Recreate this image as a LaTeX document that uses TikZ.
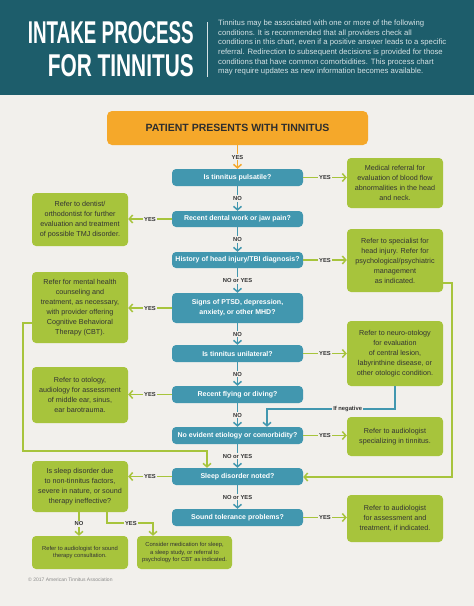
\documentclass[tikz,border=0pt]{standalone}
\usepackage{fontspec}
\setmainfont{Liberation Sans}
\usepackage{graphicx}
\usetikzlibrary{arrows.meta}
\definecolor{bg}{HTML}{F2F0EC}
\definecolor{hdr}{HTML}{1D5D6B}
\definecolor{hdtext}{HTML}{D5E2E5}
\definecolor{orng}{HTML}{F5A82A}
\definecolor{qblue}{HTML}{4297AF}
\definecolor{lime}{HTML}{A7C43C}
\definecolor{txt}{HTML}{333333}
\definecolor{cpy}{HTML}{8A8A8A}
\tikzset{
 qbox/.style={fill=qblue, rounded corners=4pt, text=white, font=\bfseries\fontsize{7}{10}\selectfont, minimum width=131pt, minimum height=17pt, align=center, inner sep=0pt},
 gbox/.style={fill=lime, rounded corners=4pt, text=txt, font=\fontsize{7.2}{10}\selectfont, minimum width=96pt, align=center, inner sep=0pt},
 sbox/.style={gbox, font=\fontsize{5.8}{7.8}\selectfont},
 conn/.style={line width=1.5pt},
 bl/.style={conn, draw=qblue},
 ll/.style={conn, draw=lime},
 ol/.style={conn, draw=orng},
 arr/.style={-{Straight Barb[length=3.5pt,width=8pt]}},
 lab/.style={fill=bg, text=txt, font=\bfseries\fontsize{5.8}{6}\selectfont, inner sep=1.2pt},
}
\begin{document}
\begin{tikzpicture}[x=1pt,y=-1pt]
\fill[bg] (0,0) rectangle (474,606);
\fill[hdr] (0,0) rectangle (474,95);
% title
\node[anchor=base east, inner sep=0, text=white] (t1) at (194,43.5) {\resizebox{166pt}{22pt}{\bfseries INTAKE PROCESS}};
\node[anchor=base east, inner sep=0, text=white] (t2) at (194,76) {\resizebox{146pt}{22pt}{\bfseries FOR TINNITUS}};
\coordinate (s1) at (207,22);
\coordinate (s2) at (207,77);
\draw[hdtext, line width=0.6pt] (s1) -- (s2);
\node[anchor=north west, inner sep=0, align=left, text=hdtext, font=\fontsize{7.7}{9.6}\selectfont] (intro) at (218,20) {Tinnitus may be associated with one or more of the following\\conditions. It is recommended that all providers check all\\conditions in this chart, even if a positive answer leads to a specific\\referral. Redirection to subsequent decisions is provided for those\\conditions that have common comorbidities. This process chart\\may require updates as new information becomes available.};
% start
\node[fill=orng, rounded corners=5pt, minimum width=261pt, minimum height=34pt, inner sep=0, text=txt!90!black, font=\bfseries\fontsize{10.5}{12}\selectfont] (start) at (237.5,128) {PATIENT PRESENTS WITH TINNITUS};
% questions
\node[qbox] (b1) at (237.5,177.5) {Is tinnitus pulsatile?};
\node[qbox, minimum height=16pt] (b2) at (237.5,219) {Recent dental work or jaw pain?};
\node[qbox, minimum height=16pt] (b3) at (237.5,260) {History of head injury/TBI diagnosis?};
\node[qbox, minimum height=30pt] (b4) at (237.5,308) {Signs of PTSD, depression,\\anxiety, or other MHD?};
\node[qbox] (b5) at (237.5,353.5) {Is tinnitus unilateral?};
\node[qbox] (b6) at (237.5,394.5) {Recent flying or diving?};
\node[qbox] (b7) at (237.5,435.5) {No evident etiology or comorbidity?};
\node[qbox] (b8) at (237.5,476.5) {Sleep disorder noted?};
\node[qbox] (b9) at (237.5,517.5) {Sound tolerance problems?};
% right boxes
\node[gbox, minimum height=50pt] (r1) at (395,183) {Medical referral for\\evaluation of blood flow\\abnormalities in the head\\and neck.};
\node[gbox, minimum height=63pt] (r2) at (395,260.5) {Refer to specialist for\\head injury. Refer for\\psychological/psychiatric\\management\\as indicated.};
\node[gbox, minimum height=65pt] (r3) at (395,353.5) {Refer to neuro-otology\\for evaluation\\of central lesion,\\labyrinthine disease, or\\other otologic condition.};
\node[gbox, minimum height=39pt] (r4) at (395,436.5) {Refer to audiologist\\specializing in tinnitus.};
\node[gbox, minimum height=47pt] (r5) at (395,518.5) {Refer to audiologist\\for assessment and\\treatment, if indicated.};
% left boxes
\node[gbox, minimum height=53pt] (l1) at (80,219.5) {Refer to dentist/\\orthodontist for further\\evaluation and treatment\\of possible TMJ disorder.};
\node[gbox, minimum height=71pt] (l2) at (80,307.5) {Refer for mental health\\counseling and\\treatment, as necessary,\\with provider offering\\Cognitive Behavioral\\Therapy (CBT).};
\node[gbox, minimum height=56pt] (l3) at (80,395) {Refer to otology,\\audiology for assessment\\of middle ear, sinus,\\ear barotrauma.};
\node[gbox, minimum height=51pt] (l4) at (80,486.5) {Is sleep disorder due\\to non-tinnitus factors,\\severe in nature, or sound\\therapy ineffective?};
\node[sbox, minimum height=33pt] (l5) at (80,552.5) {Refer to audiologist for sound\\therapy consultation.};
\node[sbox, minimum height=33pt, minimum width=95pt] (l6) at (184.5,552.5) {Consider medication for sleep,\\a sleep study, or referral to\\psychology for CBT as indicated.};
\node[anchor=base west, inner sep=0, text=cpy, font=\fontsize{5}{6}\selectfont] (copy) at (28,581.5) {\textcopyright{} 2017 American Tinnitus Association};
% main spine
\draw[ol, arr] (start) -- node[lab]{YES} (b1);
\draw[bl, arr] (b1) -- node[lab]{NO} (b2);
\draw[bl, arr] (b2) -- node[lab]{NO} (b3);
\draw[bl, arr] (b3) -- node[lab]{NO or YES} (b4);
\draw[bl, arr] (b4) -- node[lab]{NO} (b5);
\draw[bl, arr] (b5) -- node[lab]{NO} (b6);
\draw[bl, arr] (b6) -- node[lab]{NO} (b7);
\draw[bl, arr] (b7) -- node[lab]{NO or YES} (b8);
\draw[bl, arr] (b8) -- node[lab]{NO or YES} (b9);
% right yes
\draw[ll, arr] (b1.east) -- node[lab]{YES} (b1.east -| r1.west);
\draw[ll, arr] (b3.east) -- node[lab]{YES} (b3.east -| r2.west);
\draw[ll, arr] (b5.east) -- node[lab]{YES} (b5.east -| r3.west);
\draw[ll, arr] (b7.east) -- node[lab]{YES} (b7.east -| r4.west);
\draw[ll, arr] (b9.east) -- node[lab]{YES} (b9.east -| r5.west);
% left yes
\draw[ll, arr] (b2.west) -- node[lab]{YES} (b2.west -| l1.east);
\draw[ll, arr] (b4.west) -- node[lab]{YES} (b4.west -| l2.east);
\draw[ll, arr] (b6.west) -- node[lab]{YES} (b6.west -| l3.east);
\draw[ll, arr] (b8.west) -- node[lab]{YES} (b8.west -| l4.east);
% loops
\coordinate (k1) at (32,323);
\coordinate (k2) at (23,323);
\coordinate (k3) at (23,451);
\coordinate (k4) at (207,451);
\draw[ll, arr] (k1) -- (k2) -- (k3) -- (k4) -- (k4 |- b8.north);
\coordinate (m1) at (443,283);
\coordinate (m2) at (452,283);
\coordinate (m3) at (452,477);
\draw[ll, arr] (m1) -- (m2) -- (m3) -- (m3 -| b8.east);
\coordinate (n1) at (395,409);
\coordinate (n2) at (267,409);
\draw[bl, arr] (r3.south) -- (n1) -- node[lab, pos=0.37]{If negative} (n2) -- (n2 |- b7.north);
% sleep branches
\coordinate (p1) at (79,512);
\draw[ll, arr] (p1) -- node[lab]{NO} (p1 |- l5.north);
\coordinate (q1) at (107,512);
\coordinate (q2) at (107,523);
\coordinate (q3) at (153,523);
\draw[ll, arr] (q1) -- (q2) -- node[lab, pos=0.52]{YES} (q3) -- (q3 |- l6.north);
\end{tikzpicture}
\end{document}
